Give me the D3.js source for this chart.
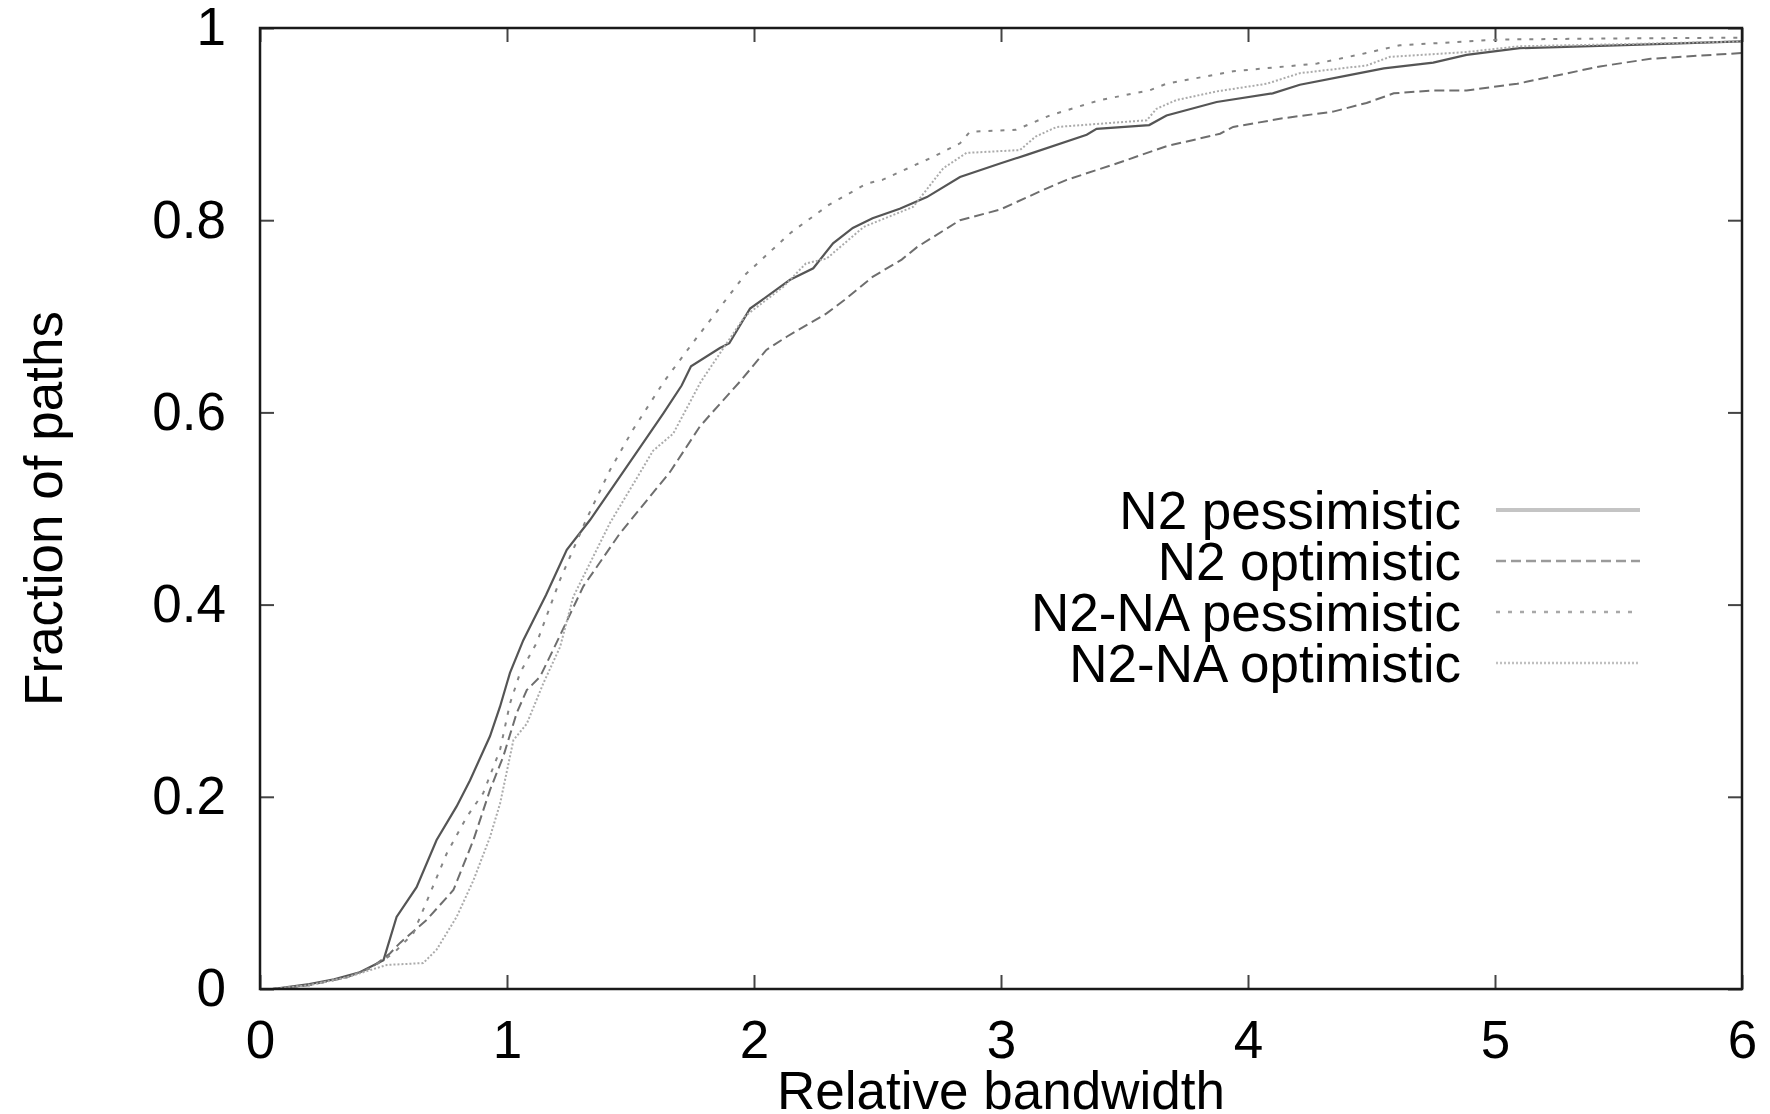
<!DOCTYPE html>
<html>
<head>
<meta charset="utf-8">
<script src="https://cdn.jsdelivr.net/npm/d3@7"></script>
<style>
  body { margin: 0; background: #fff; }
  text { font-family: "Liberation Sans", Arial, sans-serif; fill: #000; }
</style>
</head>
<body>
<div id="chart"></div>
<script>
// series names (legend order)
var seriesNames = ["N2 pessimistic", "N2 optimistic", "N2-NA pessimistic", "N2-NA optimistic"];

// N2 pessimistic (solid)
var n2PessX = [0.05, 0.2, 0.3, 0.4, 0.5, 0.553, 0.634, 0.715, 0.796, 0.85, 0.931, 0.972, 1.012, 1.066, 1.107, 1.158, 1.242, 1.336, 1.43, 1.54, 1.633, 1.707, 1.745, 1.862, 1.9, 1.984, 2.146, 2.24, 2.32, 2.4, 2.48, 2.59, 2.7, 2.834, 2.996, 3.104, 3.347, 3.387, 3.6, 3.67, 3.873, 4.1, 4.21, 4.41, 4.55, 4.75, 4.885, 5.1, 5.49, 6.0];
var n2PessY = [0, 0.005, 0.01, 0.017, 0.03, 0.075, 0.106, 0.155, 0.19, 0.217, 0.263, 0.294, 0.329, 0.363, 0.384, 0.41, 0.457, 0.488, 0.523, 0.564, 0.599, 0.628, 0.648, 0.667, 0.672, 0.708, 0.738, 0.75, 0.776, 0.792, 0.802, 0.812, 0.824, 0.845, 0.859, 0.868, 0.889, 0.895, 0.899, 0.909, 0.923, 0.932, 0.941, 0.951, 0.958, 0.964, 0.972, 0.979, 0.982, 0.986];

// N2 optimistic (dashed)
var n2OptX = [0.05, 0.2, 0.35, 0.45, 0.526, 0.567, 0.675, 0.783, 0.864, 0.931, 0.985, 1.039, 1.08, 1.134, 1.187, 1.309, 1.457, 1.66, 1.78, 1.824, 1.943, 2.05, 2.134, 2.294, 2.366, 2.48, 2.598, 2.66, 2.834, 2.996, 3.158, 3.266, 3.468, 3.67, 3.887, 3.94, 4.14, 4.345, 4.48, 4.59, 4.75, 4.885, 5.09, 5.22, 5.425, 5.63, 6.0];
var n2OptY = [0, 0.004, 0.012, 0.022, 0.037, 0.048, 0.072, 0.103, 0.155, 0.207, 0.242, 0.287, 0.311, 0.325, 0.353, 0.419, 0.474, 0.538, 0.585, 0.598, 0.632, 0.665, 0.679, 0.703, 0.717, 0.741, 0.759, 0.772, 0.8, 0.811, 0.83, 0.842, 0.859, 0.877, 0.89, 0.897, 0.906, 0.913, 0.922, 0.932, 0.935, 0.935, 0.942, 0.949, 0.96, 0.968, 0.974];

// N2-NA pessimistic (sparse dots)
var naPessX = [0.05, 0.2, 0.35, 0.45, 0.54, 0.621, 0.756, 0.837, 0.904, 0.972, 1.012, 1.053, 1.12, 1.215, 1.32, 1.417, 1.51, 1.638, 1.76, 1.963, 2.149, 2.303, 2.456, 2.52, 2.726, 2.834, 2.874, 3.06, 3.198, 3.4, 3.6, 3.67, 3.94, 4.28, 4.48, 4.615, 4.885, 5.02, 5.425, 6.0];
var naPessY = [0, 0.004, 0.012, 0.022, 0.037, 0.058, 0.141, 0.179, 0.204, 0.249, 0.297, 0.329, 0.36, 0.426, 0.488, 0.54, 0.582, 0.633, 0.675, 0.743, 0.787, 0.816, 0.838, 0.842, 0.866, 0.88, 0.892, 0.894, 0.909, 0.925, 0.935, 0.942, 0.955, 0.963, 0.974, 0.982, 0.986, 0.988, 0.989, 0.99];

// N2-NA optimistic (dense dots)
var naOptX = [0.05, 0.2, 0.35, 0.45, 0.513, 0.661, 0.715, 0.796, 0.864, 0.931, 0.972, 1.026, 1.08, 1.147, 1.215, 1.268, 1.417, 1.538, 1.591, 1.673, 1.785, 1.963, 2.12, 2.21, 2.294, 2.444, 2.645, 2.766, 2.86, 3.077, 3.14, 3.225, 3.59, 3.63, 3.71, 3.873, 4.076, 4.21, 4.48, 4.575, 4.885, 5.1, 5.49, 6.0];
var naOptY = [0, 0.004, 0.012, 0.02, 0.025, 0.027, 0.041, 0.075, 0.113, 0.158, 0.193, 0.259, 0.276, 0.318, 0.356, 0.408, 0.485, 0.537, 0.56, 0.578, 0.632, 0.7, 0.731, 0.755, 0.76, 0.793, 0.814, 0.854, 0.87, 0.873, 0.887, 0.897, 0.904, 0.916, 0.925, 0.934, 0.942, 0.953, 0.961, 0.97, 0.975, 0.981, 0.983, 0.986];

// axis ticks
var xTicks = [0, 1, 2, 3, 4, 5, 6];
var yTicks = [0, 0.2, 0.4, 0.6, 0.8, 1];
var yTickLabels = ["0", "0.2", "0.4", "0.6", "0.8", "1"];

function zip(xs, ys) {
    return xs.map(function(x, i) { return {x: x, y: ys[i]}; });
}

var dataset = [
    {name: seriesNames[0], values: zip(n2PessX, n2PessY)},
    {name: seriesNames[1], values: zip(n2OptX, n2OptY)},
    {name: seriesNames[2], values: zip(naPessX, naPessY)},
    {name: seriesNames[3], values: zip(naOptX, naOptY)}
];

// line styles, gnuplot-ish greys
var styles = [
    {stroke: "#555", width: 2.2, dash: null, legStroke: "#c4c4c4", legWidth: 4},
    {stroke: "#6e6e6e", width: 2, dash: "10,5", legStroke: "#9a9a9a", legWidth: 2.5},
    {stroke: "#858585", width: 2, dash: "4,8", legStroke: "#a8a8a8", legWidth: 2.5},
    {stroke: "#ababab", width: 2, dash: "2,2", legStroke: "#c0c0c0", legWidth: 2.5}
];

function drawChart() {
    var w = 1770, h = 1114;
    var plotLeft = 260, plotRight = 1742, plotTop = 28, plotBottom = 989;
    var tick = 14;
    var fontSize = "53px";

    var svg = d3.select("#chart")
        .append("svg")
        .attr("width", w)
        .attr("height", h);

    var xScale = d3.scaleLinear().domain([0, 6]).range([plotLeft, plotRight]);
    var yScale = d3.scaleLinear().domain([0, 1]).range([plotBottom, plotTop]);

    //bottom axis with labels, ticks pointing in
    var xAxis = d3.axisBottom(xScale)
        .tickValues(xTicks)
        .tickFormat(d3.format("d"))
        .tickSizeInner(-tick)
        .tickSizeOuter(0)
        .tickPadding(31);

    var yAxis = d3.axisLeft(yScale)
        .tickValues(yTicks)
        .tickFormat(function(d, i) { return yTickLabels[i]; })
        .tickSizeInner(-tick)
        .tickSizeOuter(0)
        .tickPadding(34);

    var gx = svg.append("g")
        .attr("transform", "translate(0," + plotBottom + ")")
        .call(xAxis);
    var gy = svg.append("g")
        .attr("transform", "translate(" + plotLeft + ",0)")
        .call(yAxis);

    //mirror ticks on top and right, no labels
    var gxTop = svg.append("g")
        .attr("transform", "translate(0," + plotTop + ")")
        .call(d3.axisTop(xScale).tickValues(xTicks).tickFormat("").tickSizeInner(-tick).tickSizeOuter(0));
    var gyRight = svg.append("g")
        .attr("transform", "translate(" + plotRight + ",0)")
        .call(d3.axisRight(yScale).tickValues(yTicks).tickFormat("").tickSizeInner(-tick).tickSizeOuter(0));

    [gx, gy, gxTop, gyRight].forEach(function(g) {
        g.select(".domain").remove();
        g.selectAll(".tick line").attr("stroke", "#444").attr("stroke-width", 2);
        g.selectAll(".tick text")
            .style("font-family", "'Liberation Sans', Arial, sans-serif")
            .style("font-size", fontSize)
            .attr("fill", "#000");
    });

    //the curves
    var line = d3.line()
        .x(function(d) { return xScale(d.x); })
        .y(function(d) { return yScale(d.y); });

    svg.selectAll(".series")
        .data(dataset)
        .enter()
        .append("path")
        .attr("class", "series")
        .attr("fill", "none")
        .attr("stroke", function(d, i) { return styles[i].stroke; })
        .attr("stroke-width", function(d, i) { return styles[i].width; })
        .attr("stroke-dasharray", function(d, i) { return styles[i].dash; })
        .attr("d", function(d) { return line(d.values); });

    //frame
    svg.append("rect")
        .attr("x", plotLeft)
        .attr("y", plotTop)
        .attr("width", plotRight - plotLeft)
        .attr("height", plotBottom - plotTop)
        .attr("fill", "none")
        .attr("stroke", "#1a1a1a")
        .attr("stroke-width", 2.5);

    //legend
    var legend = svg.append("g");
    var legRows = [510, 561, 612, 663];
    dataset.forEach(function(s, i) {
        legend.append("text")
            .attr("x", 1461)
            .attr("y", legRows[i])
            .attr("dy", "0.36em")
            .attr("text-anchor", "end")
            .style("font-size", fontSize)
            .text(s.name);
        legend.append("line")
            .attr("x1", 1496)
            .attr("x2", 1640)
            .attr("y1", legRows[i])
            .attr("y2", legRows[i])
            .attr("stroke", styles[i].legStroke)
            .attr("stroke-width", styles[i].legWidth)
            .attr("stroke-dasharray", styles[i].dash);
    });

    //axis titles
    svg.append("text")
        .attr("x", (plotLeft + plotRight) / 2)
        .attr("y", 1109)
        .attr("text-anchor", "middle")
        .style("font-size", fontSize)
        .text("Relative bandwidth");

    svg.append("text")
        .attr("transform", "translate(62," + ((plotTop + plotBottom) / 2) + ") rotate(-90)")
        .attr("text-anchor", "middle")
        .style("font-size", fontSize)
        .text("Fraction of paths");
}

drawChart();
</script>
</body>
</html>
